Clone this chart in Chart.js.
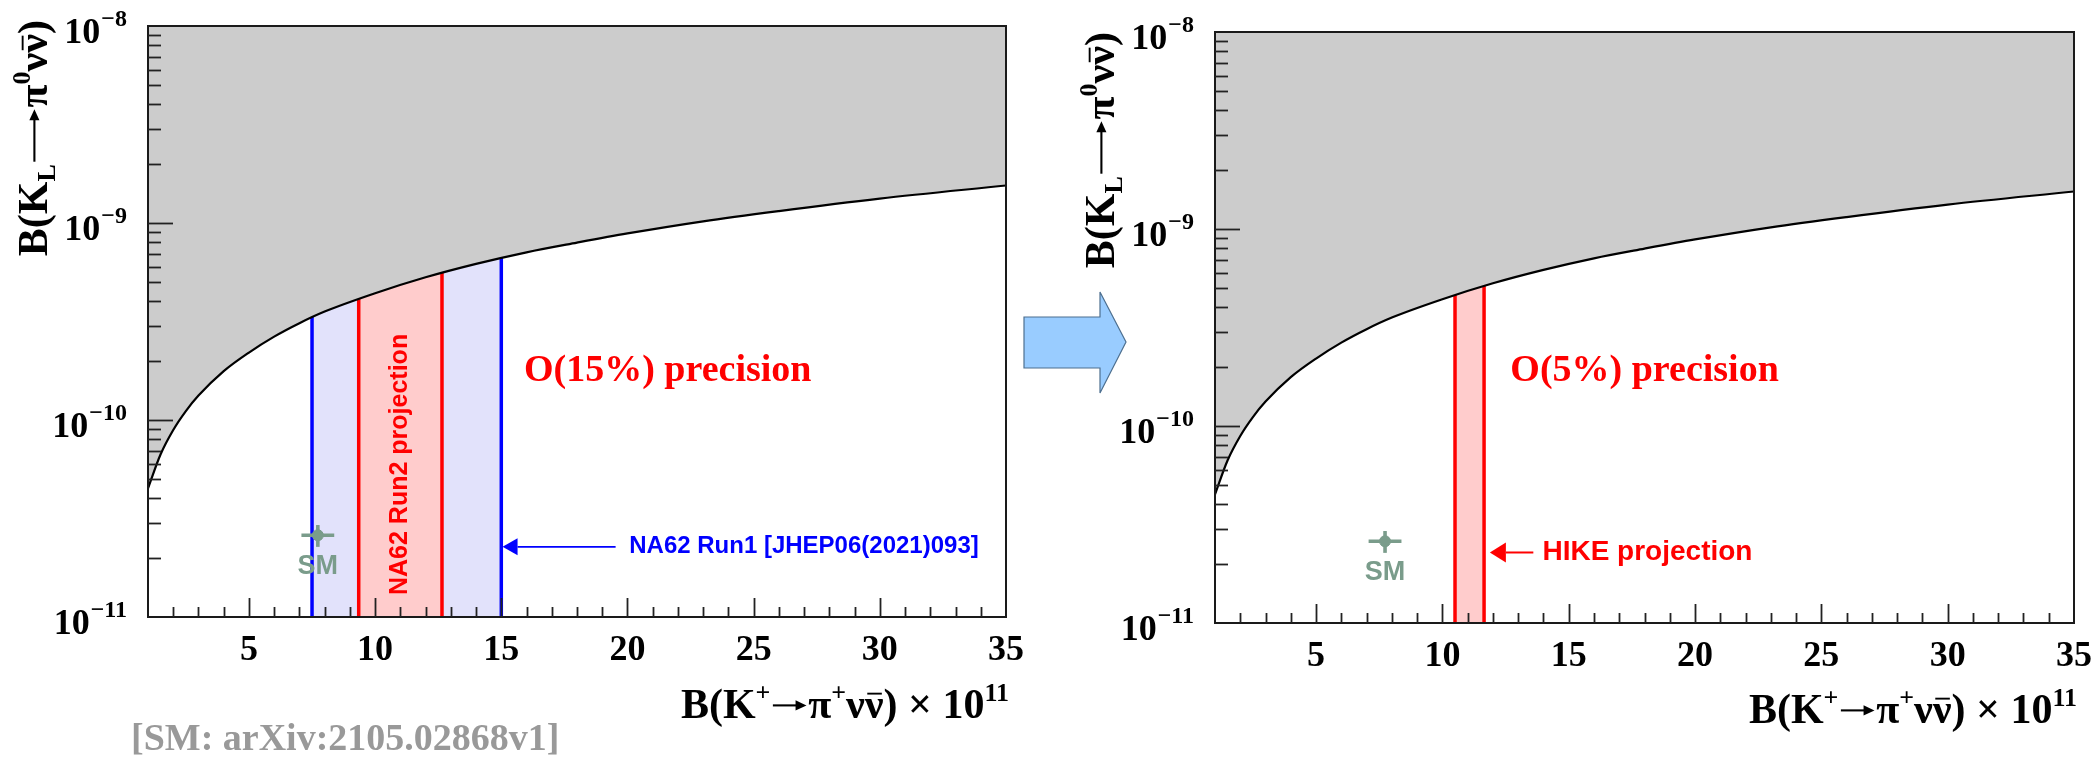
<!DOCTYPE html>
<html lang="en">
<head>
<meta charset="UTF-8">
<title>KL vs K+ rare decay branching ratios</title>
<script src="https://cdn.jsdelivr.net/npm/chart.js"></script>
<style>
  body { margin: 0; background: #fff; }
  #wrap { position: relative; width: 2096px; height: 759px; overflow: hidden; background: #fff; }
  #wrap canvas { position: absolute; top: 0; }
  #left { left: 0; }
  #right { left: 1050px; }
  #bigArrow { position: absolute; left: 0; top: 0; }
</style>
</head>
<body>
<div id="wrap">
  <canvas id="left" width="1050" height="759"></canvas>
  <canvas id="right" width="1046" height="759"></canvas>
  <svg id="bigArrow" width="2096" height="759">
    <polygon points="1024,317 1100,317 1100,292 1126,342 1100,393 1100,368 1024,368"
             fill="#99ccff" stroke="#4d6f8f" stroke-width="1.2"/>
  </svg>
</div>

<script>
// Grossman-Nir bound, B(KL) upper limit vs B(K+) x 1e11
const boundX = [1, 1.5, 2, 2.5, 3, 4, 5, 6, 7, 8, 10, 12, 14, 16, 18, 20, 23, 26, 30, 35];
const boundY = [4.5e-11, 6.7e-11, 8.9e-11, 1.11e-10, 1.33e-10, 1.77e-10, 2.2e-10, 2.65e-10, 3.1e-10,
                3.55e-10, 4.4e-10, 5.3e-10, 6.2e-10, 7.1e-10, 7.95e-10, 8.85e-10, 1.02e-9, 1.15e-9,
                1.33e-9, 1.55e-9];

// Standard Model point (x in units of 1e-11)
const smX = 7.73, smXErr = 0.65;
const smY = 2.6e-11, smYErr = 0.33e-11;

// measured / projected ranges of B(K+) x 1e11
const run1Band = [7.5, 15.0];
const run2Band = [9.35, 12.65];
const hikeBand = [10.5, 11.65];

// axes
const xMin = 1, xMax = 35;
const yMin = 1e-11, yMax = 1e-8;
const xTicks = [5, 10, 15, 20, 25, 30, 35];
const xTickLabels = ['5', '10', '15', '20', '25', '30', '35'];
const yTicks = [1e-11, 1e-10, 1e-9, 1e-8];
const yTickExps = ['\u221211', '\u221210', '\u22129', '\u22128'];

const SERIF = '"Liberation Serif", "Times New Roman", serif';
const SANS = '"Liberation Sans", Arial, sans-serif';
const smColor = '#7a9c8b';

function setFont(ctx, size, family) { ctx.font = `bold ${size}px ${family}`; }

// --- little rich text helper for sub/superscripts, arrows and overlines ---
function runWidth(ctx, r, size) {
  if (r.arrow) return r.arrow * size;
  setFont(ctx, (r.sup || r.sub) ? Math.round(size * 0.62) : size, SERIF);
  return ctx.measureText(r.t).width;
}
function richWidth(ctx, runs, size) {
  return runs.reduce((w, r) => w + runWidth(ctx, r, size), 0);
}
function drawRich(ctx, runs, size, color) {
  ctx.fillStyle = color;
  ctx.strokeStyle = color;
  ctx.textAlign = 'left';
  ctx.textBaseline = 'alphabetic';
  let x = 0;
  for (const r of runs) {
    const w = runWidth(ctx, r, size);
    if (r.arrow) {
      const ay = -0.3 * size;
      ctx.lineWidth = Math.max(1.5, size * 0.05);
      ctx.beginPath();
      ctx.moveTo(x + 0.06 * size, ay);
      ctx.lineTo(x + w - 0.12 * size, ay);
      ctx.stroke();
      ctx.beginPath();
      ctx.moveTo(x + w - 0.04 * size, ay);
      ctx.lineTo(x + w - 0.3 * size, ay - 0.12 * size);
      ctx.lineTo(x + w - 0.3 * size, ay + 0.12 * size);
      ctx.closePath();
      ctx.fill();
    } else {
      const dy = r.sup ? -0.4 * size : (r.sub ? 0.2 * size : 0);
      ctx.fillText(r.t, x, dy);
      if (r.bar) {
        ctx.lineWidth = Math.max(1.5, size * 0.045);
        ctx.beginPath();
        ctx.moveTo(x + 0.06 * size, dy - 0.58 * size);
        ctx.lineTo(x + w - 0.04 * size, dy - 0.58 * size);
        ctx.stroke();
      }
    }
    x += w;
  }
}

const yTitleRuns = [
  { t: 'B(K' }, { t: 'L', sub: true }, { arrow: 1.35 }, { t: '\u03c0' }, { t: '0', sup: true },
  { t: '\u03bd' }, { t: '\u03bd', bar: true }, { t: ')' }
];
const xTitleRuns = [
  { t: 'B(K' }, { t: '+', sup: true }, { arrow: 0.9 }, { t: '\u03c0' }, { t: '+', sup: true },
  { t: '\u03bd' }, { t: '\u03bd', bar: true }, { t: ') \u00d7 10' }, { t: '11', sup: true }
];

// ROOT style frame, inward ticks, labels and annotations
const rootFrame = {
  id: 'rootFrame',
  afterDraw(chart, args, o) {
    const ctx = chart.ctx, a = chart.chartArea;
    const xs = chart.scales.x, ys = chart.scales.y;
    ctx.save();

    // frame
    ctx.lineWidth = 2;
    ctx.strokeStyle = '#1a1a1a';
    ctx.strokeRect(a.left, a.top, a.right - a.left, a.bottom - a.top);

    // x ticks (inward from bottom)
    ctx.strokeStyle = '#222';
    ctx.lineWidth = 1.8;
    for (let v = xMin + 1; v < xMax; v++) {
      const px = Math.round(xs.getPixelForValue(v)) + 0.5;
      const len = (v % 5 === 0) ? 19 : 10;
      ctx.beginPath();
      ctx.moveTo(px, a.bottom);
      ctx.lineTo(px, a.bottom - len);
      ctx.stroke();
    }
    // y ticks (inward from left)
    for (let k = -11; k <= -9; k++) {
      for (let m = 1; m <= 9; m++) {
        const v = m * Math.pow(10, k);
        if (v <= yMin) continue;
        const py = Math.round(ys.getPixelForValue(v)) + 0.5;
        const len = (m === 1) ? 25 : 13;
        ctx.beginPath();
        ctx.moveTo(a.left, py);
        ctx.lineTo(a.left + len, py);
        ctx.stroke();
      }
    }

    // x tick labels
    ctx.fillStyle = '#000';
    setFont(ctx, 36, SERIF);
    ctx.textAlign = 'center';
    ctx.textBaseline = 'alphabetic';
    xTicks.forEach((v, i) => {
      ctx.fillText(xTickLabels[i], xs.getPixelForValue(v), a.bottom + 43);
    });

    // y tick labels: 10 with exponent
    yTicks.forEach((v, i) => {
      const py = ys.getPixelForValue(v);
      const xEnd = a.left - 21;
      setFont(ctx, 24, SERIF);
      ctx.textAlign = 'right';
      const wExp = ctx.measureText(yTickExps[i]).width;
      ctx.fillText(yTickExps[i], xEnd, py);
      setFont(ctx, 36, SERIF);
      ctx.fillText('10', xEnd - wExp - 1, py + 17);
    });

    // axis titles
    const size = 42;
    const wx = richWidth(ctx, xTitleRuns, size);
    ctx.save();
    ctx.translate(a.right + 3 - wx, a.bottom + o.xTitleDy);
    drawRich(ctx, xTitleRuns, size, '#000');
    ctx.restore();

    const wy = richWidth(ctx, yTitleRuns, size);
    ctx.save();
    ctx.translate(a.left - 101, o.yTitleEnd + wy);
    ctx.rotate(-Math.PI / 2);
    drawRich(ctx, yTitleRuns, size, '#000');
    ctx.restore();

    // annotations
    for (const n of o.notes) {
      const px = xs.getPixelForValue(n.x);
      const py = ys.getPixelForValue(n.y) + (n.dy || 0);
      if (n.arrow) {
        const px2 = xs.getPixelForValue(n.x2);
        ctx.strokeStyle = n.color;
        ctx.fillStyle = n.color;
        ctx.lineWidth = n.lw;
        ctx.beginPath();
        ctx.moveTo(px, py);
        ctx.lineTo(px2 + n.head, py);
        ctx.stroke();
        ctx.beginPath();
        ctx.moveTo(px2, py);
        ctx.lineTo(px2 + n.head, py - n.half);
        ctx.lineTo(px2 + n.head, py + n.half);
        ctx.closePath();
        ctx.fill();
        continue;
      }
      ctx.save();
      ctx.translate(px, py);
      if (n.rotate) ctx.rotate(n.rotate);
      ctx.fillStyle = n.color;
      setFont(ctx, n.size, n.family);
      ctx.textAlign = n.align || 'left';
      ctx.textBaseline = n.baseline || 'alphabetic';
      ctx.fillText(n.text, 0, 0);
      ctx.restore();
    }

    // free text in canvas pixels
    for (const f of (o.freeText || [])) {
      ctx.fillStyle = f.color;
      setFont(ctx, f.size, f.family);
      ctx.textAlign = 'left';
      ctx.textBaseline = 'alphabetic';
      ctx.fillText(f.text, f.px, f.py);
    }
    ctx.restore();
  }
};

function bandDatasets(band, fillColor, lineColor, order) {
  const lineOpts = {
    borderColor: lineColor, borderWidth: 3.5, pointRadius: 0, showLine: true, fill: false, order: order - 1
  };
  return [
    {
      data: [{ x: band[0], y: yMax }, { x: band[1], y: yMax }],
      showLine: true, fill: 'start', backgroundColor: fillColor,
      borderColor: 'rgba(0,0,0,0)', borderWidth: 0, pointRadius: 0, order: order
    },
    Object.assign({ data: [{ x: band[0], y: yMin }, { x: band[0], y: yMax }] }, lineOpts),
    Object.assign({ data: [{ x: band[1], y: yMin }, { x: band[1], y: yMax }] }, lineOpts)
  ];
}

function commonDatasets() {
  return [
    {
      data: boundX.map((x, i) => ({ x: x, y: boundY[i] })),
      showLine: true, cubicInterpolationMode: 'monotone',
      borderColor: '#000', borderWidth: 2.2, pointRadius: 0,
      fill: 'end', backgroundColor: '#cccccc', order: 2
    },
    {
      data: [{ x: smX - smXErr, y: smY }, { x: smX + smXErr, y: smY }],
      showLine: true, borderColor: smColor, borderWidth: 3.6, pointRadius: 0, order: 1
    },
    {
      data: [{ x: smX, y: smY - smYErr }, { x: smX, y: smY + smYErr }],
      showLine: true, borderColor: smColor, borderWidth: 3.6, pointRadius: 0, order: 1
    },
    {
      data: [{ x: smX, y: smY }],
      pointRadius: 5.5, pointBackgroundColor: smColor, pointBorderColor: smColor, order: 0
    }
  ];
}

function makePanel(id, datasets, padding, frameOpts) {
  return new Chart(document.getElementById(id), {
    type: 'scatter',
    data: { datasets: datasets },
    options: {
      responsive: false,
      animation: false,
      devicePixelRatio: 1,
      layout: { padding: padding },
      scales: {
        x: { type: 'linear', min: xMin, max: xMax, display: false },
        y: { type: 'logarithmic', min: yMin, max: yMax, display: false }
      },
      plugins: {
        legend: { display: false },
        tooltip: { enabled: false },
        rootFrame: frameOpts
      }
    },
    plugins: [rootFrame]
  });
}

const smLabel = { text: 'SM', x: smX, y: smY, dy: 39, size: 27, family: SANS, color: smColor, align: 'center' };

makePanel('left',
  [].concat(
    bandDatasets(run1Band, '#e2e2fb', '#0000ff', 12),
    bandDatasets(run2Band, '#ffcccc', '#ff0000', 10),
    commonDatasets()
  ),
  { left: 148, top: 26, right: 44, bottom: 142 },
  {
    xTitleDy: 101,
    yTitleEnd: 20,
    notes: [
      { text: 'O(15%) precision', x: 15.9, y: 1.58e-10, size: 38, family: SERIF, color: '#ff0000' },
      { text: 'NA62 Run2 projection', x: 11.0, y: 5.95e-11, size: 25, family: SANS, color: '#ff0000',
        align: 'center', baseline: 'middle', rotate: -Math.PI / 2 },
      { arrow: true, x: 19.53, x2: 15.05, y: 2.27e-11, color: '#0000ff', lw: 1.6, head: 15, half: 8.5 },
      { text: 'NA62 Run1 [JHEP06(2021)093]', x: 20.07, y: 2.27e-11, size: 24, family: SANS,
        color: '#0000ff', baseline: 'middle' },
      smLabel
    ],
    freeText: [
      { text: '[SM: arXiv:2105.02868v1]', px: 131, py: 750, size: 38, family: SERIF, color: '#999999' }
    ]
  }
);

makePanel('right',
  [].concat(
    bandDatasets(hikeBand, '#ffcccc', '#ff0000', 10),
    commonDatasets()
  ),
  { left: 165, top: 32, right: 22, bottom: 136 },
  {
    xTitleDy: 100,
    yTitleEnd: 32,
    notes: [
      { text: 'O(5%) precision', x: 12.69, y: 1.70e-10, size: 38, family: SERIF, color: '#ff0000' },
      { arrow: true, x: 13.6, x2: 11.88, y: 2.28e-11, color: '#ff0000', lw: 2, head: 16, half: 10 },
      { text: 'HIKE projection', x: 13.96, y: 2.28e-11, size: 28, family: SANS, color: '#ff0000',
        baseline: 'middle' },
      smLabel
    ]
  }
);
</script>
</body>
</html>
